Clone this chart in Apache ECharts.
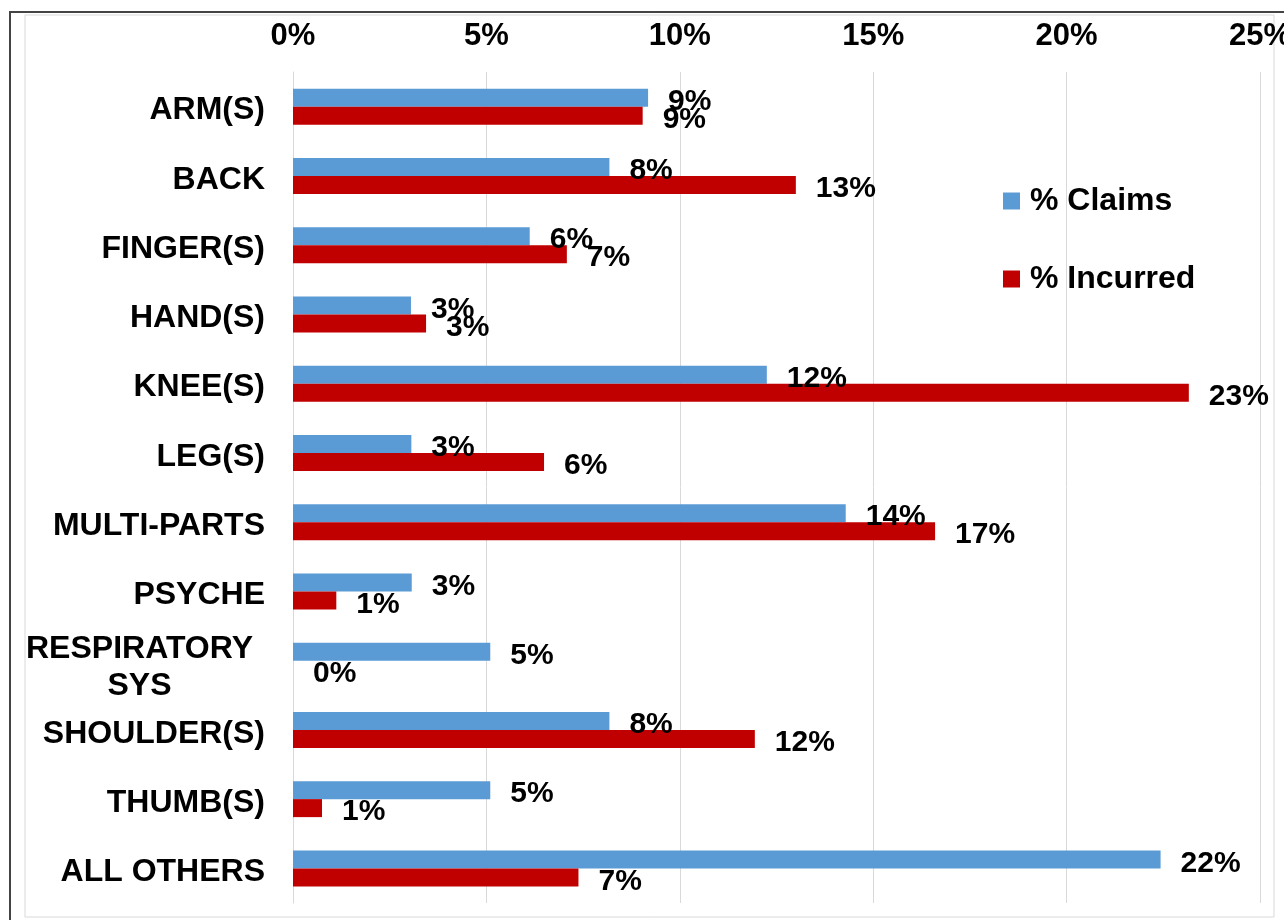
<!DOCTYPE html>
<html>
<head>
<meta charset="utf-8">
<script src="https://cdn.jsdelivr.net/npm/echarts@6/dist/echarts.min.js"></script>
<style>
html,body{margin:0;padding:0;background:#fff;}
#chart{width:1284px;height:920px;}
</style>
</head>
<body>
<div id="chart"></div>
<script>
const categories = ['ARM(S)', 'BACK', 'FINGER(S)', 'HAND(S)', 'KNEE(S)', 'LEG(S)', 'MULTI-PARTS', 'PSYCHE', 'RESPIRATORY SYS', 'SHOULDER(S)', 'THUMB(S)', 'ALL OTHERS'];
const claims = [9.18, 8.18, 6.12, 3.05, 12.25, 3.06, 14.29, 3.07, 5.10, 8.18, 5.10, 22.43];
const incurred = [9.04, 13.0, 7.08, 3.44, 23.16, 6.49, 16.6, 1.12, 0, 11.94, 0.75, 7.38];
const seriesNames = ['% Claims', '% Incurred'];
const xTicks = { min: 0, max: 25, interval: 5 };

const FONT = '"Liberation Sans", Arial, sans-serif';
const chart = echarts.init(document.getElementById('chart'));

const labelCfg = {
  show: true,
  position: 'right',
  distance: 20,
  offset: [0, 4],
  color: '#000',
  fontFamily: FONT,
  fontWeight: 'bold',
  fontSize: 30,
  formatter: p => Math.round(p.value) + '%'
};

chart.setOption({
  backgroundColor: '#fff',
  animation: false,
  graphic: [
    { type: 'rect', shape: { x: 10, y: 12, width: 1300, height: 940 }, style: { fill: 'none', stroke: '#444', lineWidth: 2 }, silent: true, z: -10 },
    { type: 'rect', shape: { x: 25, y: 15, width: 1249, height: 902 }, style: { fill: 'none', stroke: '#d9d9d9', lineWidth: 1 }, silent: true, z: -10 }
  ],
  grid: { left: 293, right: 24, top: 72, bottom: 17, containLabel: false, outerBoundsMode: 'none' },
  legend: {
    orient: 'vertical',
    left: 998,
    top: 180,
    itemWidth: 17,
    itemHeight: 17,
    itemGap: 46,
    icon: 'rect',
    data: seriesNames,
    textStyle: { color: '#000', fontFamily: FONT, fontWeight: 'bold', fontSize: 32, lineHeight: 32, padding: [0, 0, 0, 5] }
  },
  xAxis: {
    type: 'value',
    position: 'top',
    min: xTicks.min,
    max: xTicks.max,
    interval: xTicks.interval,
    axisLine: { show: false },
    axisTick: { show: false },
    splitLine: { show: true, lineStyle: { color: '#d9d9d9', width: 1 } },
    axisLabel: {
      formatter: '{value}%',
      color: '#000',
      fontFamily: FONT,
      fontWeight: 'bold',
      fontSize: 31,
      margin: 20
    }
  },
  yAxis: {
    type: 'category',
    inverse: true,
    data: categories,
    axisLine: { show: true, lineStyle: { color: '#d9d9d9', width: 1 } },
    axisTick: { show: false },
    axisLabel: {
      color: '#000',
      fontFamily: FONT,
      fontWeight: 'bold',
      fontSize: 32,
      margin: 28,
      padding: [8, 0, 0, 0],
      formatter: v => v === 'RESPIRATORY SYS' ? '{c|RESPIRATORY}\n{c|SYS}' : v,
      rich: {
        c: { align: 'center', color: '#000', fontFamily: FONT, fontWeight: 'bold', fontSize: 32, lineHeight: 37, padding: [6, 12, 0, 0] }
      }
    }
  },
  series: [
    {
      name: seriesNames[0],
      type: 'bar',
      data: claims,
      barWidth: 18,
      barGap: '0%',
      itemStyle: { color: '#5B9BD5' },
      label: labelCfg,
      z: 2
    },
    {
      name: seriesNames[1],
      type: 'bar',
      data: incurred,
      barWidth: 18,
      barGap: '0%',
      itemStyle: { color: '#C00000' },
      label: labelCfg,
      z: 2
    }
  ]
});
</script>
</body>
</html>
